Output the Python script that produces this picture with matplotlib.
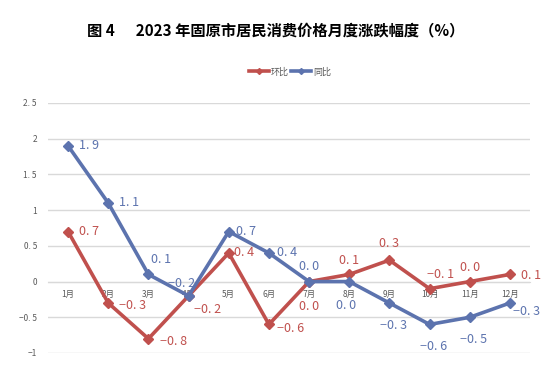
import matplotlib
matplotlib.use("Agg")
import matplotlib.pyplot as plt

plt.rcParams['font.family'] = ['Noto Sans CJK SC', 'DejaVu Sans']
plt.rcParams['axes.unicode_minus'] = True

months = ["1月", "2月", "3月", "4月", "5月", "6月", "7月", "8月", "9月", "10月", "11月", "12月"]
huanbi = [0.7, -0.3, -0.8, -0.2, 0.4, -0.6, 0.0, 0.1, 0.3, -0.1, 0.0, 0.1]
tongbi = [1.9, 1.1, 0.1, -0.2, 0.7, 0.4, 0.0, 0.0, -0.3, -0.6, -0.5, -0.3]
yticks = [-1, -0.5, 0, 0.5, 1, 1.5, 2, 2.5]
ytick_labels = ["−1", "−0. 5", "0", "0. 5", "1", "1. 5", "2", "2. 5"]

RED = "#C0504D"
BLUE = "#5C73AE"
GRID = "#D9D9D9"
TICK = "#595959"

# label offsets in points (dx, dy, ha, va)
red_off = [(8, 0, "left", "center"), (8, -2, "left", "center"), (8, -2, "left", "center"),
           (4, -10, "left", "center"), (4, 0, "left", "center"), (6, -3, "left", "center"),
           (0, -18, "center", "center"), (0, 10, "center", "center"), (0, 12, "center", "center"),
           (8, 10, "center", "center"), (0, 10, "center", "center"), (8, -1, "left", "center")]
blue_off = [(8, 0, "left", "center"), (8, 0, "left", "center"), (2, 11, "left", "center"),
            (-5, 9, "center", "center"), (5, 0, "left", "center"), (6, 0, "left", "center"),
            (0, 11, "center", "center"), (-2, -17, "center", "center"), (3, -16, "center", "center"),
            (3, -16, "center", "center"), (3, -16, "center", "center"), (12, -6, "center", "center")]


def fmt(v):
    s = f"{abs(v):.1f}".replace(".", ". ")
    return ("−" + s) if v < 0 else s


fig = plt.figure(figsize=(5.51, 3.76), dpi=100)
ax = fig.add_axes([48 / 551, 1 - 353 / 376, (530 - 48) / 551, (353 - 103) / 376])

x = list(range(len(months)))
ax.plot(x, huanbi, color=RED, lw=2.6, marker="D", ms=5, label="环比", zorder=3)
ax.plot(x, tongbi, color=BLUE, lw=2.6, marker="D", ms=5, label="同比", zorder=3)

for i, v in enumerate(huanbi):
    dx, dy, ha, va = red_off[i]
    ax.annotate(fmt(v), (i, v), xytext=(dx, dy), textcoords="offset points",
                ha=ha, va=va, fontsize=9, color=RED, fontweight="medium")
for i, v in enumerate(tongbi):
    dx, dy, ha, va = blue_off[i]
    ax.annotate(fmt(v), (i, v), xytext=(dx, dy), textcoords="offset points",
                ha=ha, va=va, fontsize=9, color=BLUE, fontweight="medium")

ax.set_xlim(-0.5, 11.5)
ax.set_ylim(-1, 2.5)
ax.set_yticks(yticks)
ax.set_yticklabels(ytick_labels)
ax.set_xticks(x)
ax.set_xticklabels(months)
ax.grid(axis="y", color=GRID, lw=1)
ax.set_axisbelow(True)
for s in ["top", "right", "left"]:
    ax.spines[s].set_visible(False)
ax.spines["bottom"].set_position(("data", 0))
ax.spines["bottom"].set_color(GRID)
ax.tick_params(axis="both", length=0, labelsize=6, labelcolor=TICK)
ax.tick_params(axis="x", pad=6)
ax.tick_params(axis="y", pad=8)

fig.text(0.5, 1 - 30 / 376, "图 4      2023 年固原市居民消费价格月度涨跌幅度（%）",
         ha="center", va="center", fontsize=11, fontweight="bold", color="black")

fig.legend(loc="center", bbox_to_anchor=(290 / 551, 1 - 72 / 376), ncol=2, frameon=False,
           fontsize=6.5, labelcolor=TICK, handlelength=2.2, handletextpad=0.2, columnspacing=0.3,
           markerscale=0.6)

fig.savefig("out.png", dpi=100)
